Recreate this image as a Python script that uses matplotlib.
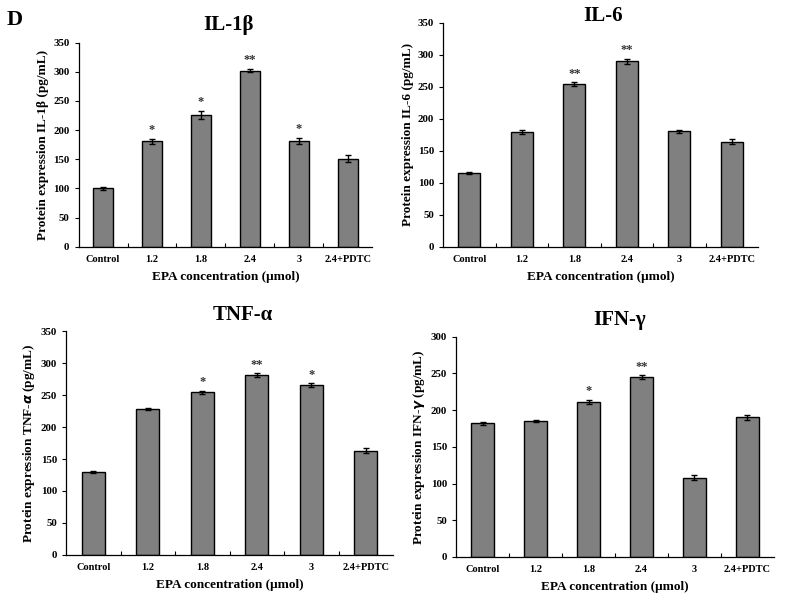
import matplotlib
matplotlib.use("Agg")
import matplotlib.pyplot as plt
import numpy as np

plt.rcParams['font.family'] = ['Liberation Serif', 'DejaVu Serif']
plt.rcParams['font.weight'] = 'bold'

categories = ["Control", "1.2", "1.8", "2.4", "3", "2.4+PDTC"]

il1b_vals = [100, 181, 226, 302, 182, 151]
il1b_err = [2, 4, 7, 3, 5, 6]
il1b_sig = ["", "*", "*", "**", "*", ""]

il6_vals = [115, 179, 254, 290, 180, 164]
il6_err = [2, 3, 3, 4, 3, 4]
il6_sig = ["", "", "**", "**", "", ""]

tnf_vals = [130, 228, 254, 281, 265, 163]
tnf_err = [2, 1, 3, 3, 3, 4]
tnf_sig = ["", "", "*", "**", "*", ""]

ifn_vals = [182, 185, 211, 245, 108, 190]
ifn_err = [2, 1.5, 3, 2.5, 3, 4]
ifn_sig = ["", "", "*", "**", "", ""]

W, H = 790, 603
fig = plt.figure(figsize=(W / 100, H / 100), dpi=100)


def ax_at(l, r, t, b):
    return fig.add_axes([l / W, 1 - b / H, (r - l) / W, (b - t) / H])


panels = [
    (ax_at(78.5, 372.5, 42.7, 246.7), "IL-1β", "Protein expression IL-1β (pg/mL)",
     il1b_vals, il1b_err, il1b_sig, 350, (228, 25)),
    (ax_at(443, 758, 22.7, 246.7), "IL-6", "Protein expression IL-6 (pg/mL)",
     il6_vals, il6_err, il6_sig, 350, (603, 16)),
    (ax_at(66, 393, 331, 555), "TNF-α", "Protein expression TNF-$\\alpha$ (pg/mL)",
     tnf_vals, tnf_err, tnf_sig, 350, (243, 315)),
    (ax_at(456, 774, 336.7, 557), "IFN-γ", "Protein expression IFN-$\\gamma$ (pg/mL)",
     ifn_vals, ifn_err, ifn_sig, 300, (620, 320)),
]

x = np.arange(len(categories))
for ax, title, ylabel, vals, errs, sigs, ymax, tpos in panels:
    ax.bar(x, vals, width=0.42, color="#808080", edgecolor="black", linewidth=1.0,
           yerr=errs, capsize=2.2, error_kw=dict(ecolor="black", elinewidth=1.0, capthick=1.0))
    for xi, v, e, s in zip(x, vals, errs, sigs):
        if s:
            ax.text(xi, v + e + ymax * 0.012, s, ha="center", va="bottom", fontsize=9,
                    fontweight="bold", color="#333333")
    ax.set_xlim(-0.5, len(categories) - 0.5)
    ax.set_ylim(0, ymax)
    ax.set_yticks(np.arange(0, ymax + 1, 50))
    ax.set_xticks(x)
    ax.set_xticklabels(categories)
    ax.set_xticks(np.arange(0.5, len(categories) - 0.5, 1.0), minor=True)
    ax.tick_params(axis="x", which="major", length=0, pad=6, labelsize=7.5)
    ax.tick_params(axis="x", which="minor", direction="in", length=3, width=0.8)
    ax.tick_params(axis="y", direction="out", length=3, width=0.8, labelsize=7.8)
    for lbl in ax.get_xticklabels() + ax.get_yticklabels():
        lbl.set_fontweight("bold")
    ax.spines["top"].set_visible(False)
    ax.spines["right"].set_visible(False)
    ax.spines["left"].set_linewidth(0.9)
    ax.spines["bottom"].set_linewidth(0.9)
    ax.set_ylabel(ylabel, fontsize=9.5, fontweight="bold", labelpad=3)
    ax.set_xlabel("EPA concentration (μmol)", fontsize=9.5, fontweight="bold", labelpad=5)
    fig.text(tpos[0] / W, 1 - tpos[1] / H, title, ha="center", va="center",
             fontsize=15, fontweight="bold")

fig.text(15 / W, 1 - 20 / H, "D", ha="center", va="center", fontsize=16, fontweight="bold")

fig.savefig("out.png", dpi=100)
